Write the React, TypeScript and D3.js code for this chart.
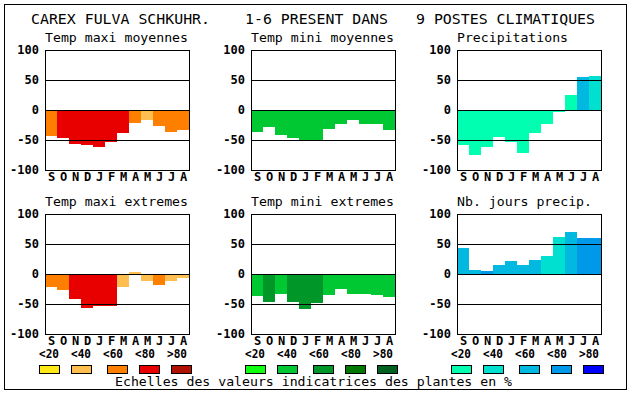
import * as d3 from 'd3';

const W = 630;
const H = 394;
const font = '"DejaVu Sans Mono", "Liberation Mono", monospace';

const months = ['S', 'O', 'N', 'D', 'J', 'F', 'M', 'A', 'M', 'J', 'J', 'A'];
const ticks = [100, 50, 0, -50, -100];
const gridLines = [50, 0, -50];

// values, one per month (Sept -> Aug)
const maxiMoy = [-43, -46, -56, -58, -61, -54, -38, -21, -16, -26, -36, -33];
const maxiMoyCls = [2, 3, 3, 3, 3, 3, 3, 2, 1, 2, 2, 2];
const miniMoy = [-36, -28, -41, -46, -49.5, -49.5, -31, -23, -16, -24, -24, -34];
const miniMoyCls = [1, 1, 1, 1, 1, 1, 1, 1, 1, 1, 1, 1];
const precip = [-58, -74.5, -61, -44.5, -53, -71, -38, -23, -3, 25, 55, 57];
const precipCls = [0, 0, 0, 0, 0, 0, 0, 0, 0, 0, 2, 1];
const maxiExt = [-21, -26, -41, -56, -54, -54, -21, 3, -11, -18, -11, -6];
const maxiExtCls = [2, 2, 3, 3, 3, 3, 1, 1, 1, 2, 1, 1];
const miniExt = [-36, -46, -33, -46, -58, -48, -34.5, -24.5, -33, -33, -35, -38];
const miniExtCls = [1, 2, 1, 2, 2, 2, 1, 1, 1, 1, 1, 1];
const joursPrecip = [43, 7, 5.5, 15.5, 22, 15.5, 24, 30.5, 62, 70, 60, 60];
const joursCls = [2, 2, 3, 2, 2, 2, 2, 1, 1, 2, 3, 3];

const legendLabels = ['<20', '<40', '<60', '<80', '>80'];
const palettes = [
  ['#ffe818', '#ffbf50', '#ff8000', '#e80000', '#b01000'],
  ['#10ff10', '#00c832', '#009628', '#007800', '#006020'],
  ['#00ffb0', '#00e0d0', '#00b8e0', '#0098e8', '#0000ff'],
];

const titleParts = [
  { text: 'CAREX FULVA SCHKUHR.', x: 31 },
  { text: '1-6 PRESENT DANS', x: 245 },
  { text: '9 POSTES CLIMATIQUES', x: 416 },
];

const panels = [
  { title: 'Temp maxi moyennes', values: maxiMoy, cls: maxiMoyCls, col: 0, row: 0 },
  { title: 'Temp mini moyennes', values: miniMoy, cls: miniMoyCls, col: 1, row: 0 },
  { title: 'Precipitations', values: precip, cls: precipCls, col: 2, row: 0 },
  { title: 'Temp maxi extremes', values: maxiExt, cls: maxiExtCls, col: 0, row: 1 },
  { title: 'Temp mini extremes', values: miniExt, cls: miniExtCls, col: 1, row: 1 },
  { title: 'Nb. jours precip.', values: joursPrecip, cls: joursCls, col: 2, row: 1 },
];

const colX = [45, 251, 457];
const rowY = [50, 214];
const pw = 144;
const ph = 120;
const swatchOff = [0, 32, 68, 100, 132];
const labelOff = [0, 32, 64, 96, 128];

const Panel = ({ p }) => {
  const x0 = colX[p.col];
  const y0 = rowY[p.row];
  const x = d3.scaleBand<string>().domain(months.map((_, i) => String(i))).range([x0, x0 + pw]);
  const y = d3.scaleLinear().domain([-100, 100]).range([y0 + ph, y0]);
  const pal = palettes[p.col];
  return (
    <g>
      <text x={x0} y={y0 - 8} fontFamily={font} fontSize={13} textLength={p.title.length * 8 - 1} lengthAdjust="spacingAndGlyphs">
        {p.title}
      </text>
      {p.values.map((v, i) => {
        const top = y(Math.max(0, v));
        const bot = y(Math.min(0, v));
        return (
          <rect key={i} x={x(String(i))} y={top} width={x.bandwidth()} height={bot - top} fill={pal[p.cls[i]]} shapeRendering="crispEdges" />
        );
      })}
      {gridLines.map((g) => (
        <line key={g} x1={x0} x2={x0 + pw} y1={Math.round(y(g)) + 0.5} y2={Math.round(y(g)) + 0.5} stroke="#000" shapeRendering="crispEdges" />
      ))}
      <rect x={x0 + 0.5} y={y0 + 0.5} width={pw} height={ph} fill="none" stroke="#000" shapeRendering="crispEdges" />
      {ticks.map((t) => (
        <text key={t} x={x0 - 6} y={y(t) + 4} textAnchor="end" fontFamily={font} fontWeight="bold" fontSize={12}>
          {t}
        </text>
      ))}
      {months.map((m, i) => (
        <text key={i} x={x(String(i))! + x.bandwidth() / 2 + 0.5} y={y0 + ph + 11} textAnchor="middle" fontFamily={font} fontWeight="bold" fontSize={12}>
          {m}
        </text>
      ))}
    </g>
  );
};

export default function App() {
  return (
    <svg width={W} height={H} style={{ position: 'absolute', left: 0, top: 0, background: '#fff' }}>
      <rect x={0} y={0} width={W} height={H} fill="#fff" />
      <rect x={4.5} y={4.5} width={622} height={385} fill="none" stroke="#000" shapeRendering="crispEdges" />
      {titleParts.map((t) => (
        <text key={t.x} x={t.x} y={24} fontFamily={font} fontSize={14} textLength={t.text.length * 9 - 1} lengthAdjust="spacingAndGlyphs">
          {t.text}
        </text>
      ))}
      {panels.map((p, i) => (
        <Panel key={i} p={p} />
      ))}
      {palettes.map((pal, g) => (
        <g key={g}>
          {legendLabels.map((l, i) => (
            <text key={l} x={colX[g] - 6 + labelOff[i]} y={358} fontFamily={font} fontWeight="bold" fontSize={12} textLength={20} lengthAdjust="spacingAndGlyphs">
              {l}
            </text>
          ))}
          {pal.map((c, i) => (
            <rect key={c} x={colX[g] - 6 + swatchOff[i] + 0.5} y={365.5} width={20} height={8} fill={c} stroke="#000" shapeRendering="crispEdges" />
          ))}
        </g>
      ))}
      <text x={115} y={386} fontFamily={font} fontSize={13} textLength={397} lengthAdjust="spacingAndGlyphs">
        Echelles des valeurs indicatrices des plantes en %
      </text>
    </svg>
  );
}
